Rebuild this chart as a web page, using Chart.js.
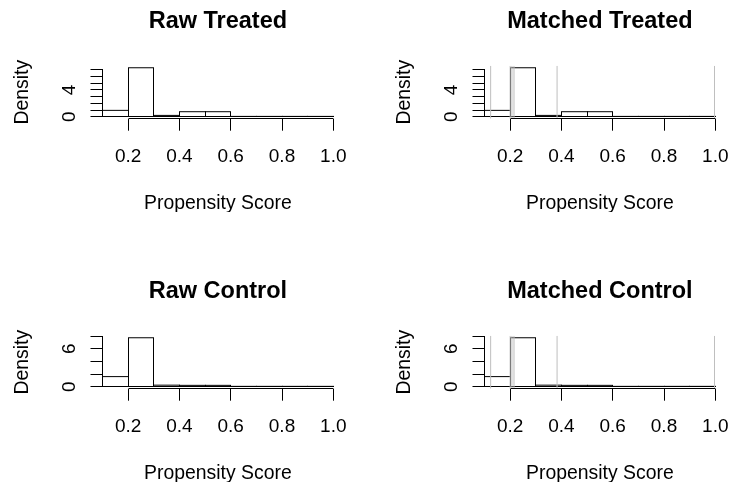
<!DOCTYPE html>
<html><head><meta charset="utf-8">
<script src="https://cdn.jsdelivr.net/npm/chart.js@4.4.1/dist/chart.umd.min.js"></script>
<style>
html,body{margin:0;padding:0;background:#fff;}
#wrap{position:relative;width:730px;height:482px;overflow:hidden;background:#fff;}
canvas{position:absolute;}
</style></head><body>
<div id="wrap">
<canvas id="c1" width="348" height="212" style="left:0px;top:0px"></canvas>
<canvas id="c2" width="348" height="212" style="left:382px;top:0px"></canvas>
<canvas id="c3" width="348" height="212" style="left:0px;top:270px"></canvas>
<canvas id="c4" width="348" height="212" style="left:382px;top:270px"></canvas>
</div>
<script>
// ---- data ----
const binLower = [0.1, 0.2, 0.3, 0.4, 0.5, 0.6, 0.7, 0.8, 0.9];
const binWidth = 0.1;
const rawTreated     = [0.95, 7.3, 0.2, 0.75, 0.75, 0.05, 0.05, 0.05, 0.05];
const matchedTreated = [0.95, 7.3, 0.2, 0.75, 0.75, 0.05, 0.05, 0.05, 0.05];
const rawControl     = [1.6, 7.73, 0.25, 0.22, 0.22, 0.06, 0.06, 0.06, 0.06];
const matchedControl = [1.6, 7.73, 0.25, 0.22, 0.22, 0.06, 0.06, 0.06, 0.06];
const xTicks = [0.2, 0.4, 0.6, 0.8, 1.0];
const treatedYTicks = [0, 1, 2, 3, 4, 5, 6, 7];
const treatedYLabels = [0, 4];
const controlYTicks = [0, 2, 4, 6, 8];
const controlYLabels = [0, 6];
const cutPoints = [0.124, 0.2, 0.207, 0.215, 0.383, 0.997];
const panelTitles = ['Raw Treated', 'Matched Treated', 'Raw Control', 'Matched Control'];
const xTitle = 'Propensity Score';
const yTitle = 'Density';

// ---- rendering ----
const FONT = '"Liberation Sans", Arial, Helvetica, sans-serif';
Chart.defaults.color = '#000';
Chart.defaults.font.family = FONT;

const alignPx = v => Math.round(v - 0.5) + 0.5;

const rAxes = {
  id: 'rAxes',
  afterDraw(chart) {
    const ctx = chart.ctx, xs = chart.scales.x, ys = chart.scales.y;
    const xt = xs.ticks, yt = ys.ticks;
    ctx.save();
    ctx.strokeStyle = '#000';
    ctx.lineWidth = 1;
    ctx.beginPath();
    const xy = alignPx(xs.top);
    ctx.moveTo(alignPx(xs.getPixelForValue(xt[0].value)), xy);
    ctx.lineTo(alignPx(xs.getPixelForValue(xt[xt.length - 1].value)), xy);
    const yx = alignPx(ys.right);
    ctx.moveTo(yx, alignPx(ys.getPixelForValue(yt[0].value)));
    ctx.lineTo(yx, alignPx(ys.getPixelForValue(yt[yt.length - 1].value)));
    ctx.stroke();
    ctx.restore();
  }
};

const rOutline = {
  id: 'rOutline',
  afterDatasetDraw(chart, args) {
    const meta = args.meta;
    if (meta.type !== 'bar') return;
    const ctx = chart.ctx, area = chart.chartArea;
    ctx.save();
    ctx.beginPath();
    ctx.rect(area.left - 1, area.top, area.right - area.left + 2, area.bottom - area.top);
    ctx.clip();
    ctx.strokeStyle = '#000';
    ctx.lineWidth = 1;
    meta.data.forEach(el => {
      const p = el.getProps(['x', 'y', 'base', 'width'], true);
      const l = alignPx(p.x - p.width / 2), r = alignPx(p.x + p.width / 2);
      const b = alignPx(p.base), t = Math.min(p.y, b);
      ctx.strokeRect(l, t, r - l, b - t);
    });
    ctx.restore();
  }
};

function makePanel(id, title, values, yTicks, yLabels, cuts) {
  const vmax = Math.max(...values);
  const ymin = -0.04 * vmax, ymax = 1.04 * vmax;
  const datasets = [{
    type: 'bar',
    data: values.map((v, i) => ({x: binLower[i] + binWidth / 2, y: v})),
    backgroundColor: 'rgba(255,255,255,0)',
    borderWidth: 0,
    barPercentage: 1,
    categoryPercentage: 1,
    grouped: false,
    order: 2
  }];
  (cuts || []).forEach(c => datasets.push({
    type: 'line',
    data: [{x: c, y: ymin}, {x: c, y: ymax}],
    borderColor: '#bebebe',
    borderWidth: 1,
    pointRadius: 0,
    order: 1
  }));
  new Chart(document.getElementById(id), {
    type: 'bar',
    data: {datasets},
    plugins: [rOutline, rAxes],
    options: {
      responsive: false,
      animation: false,
      events: [],
      layout: {padding: {left: 0, right: 14.7, top: 0, bottom: 0}},
      plugins: {
        legend: {display: false},
        tooltip: {enabled: false},
        title: {
          display: true, text: title, fullSize: false,
          font: {size: 23.5, weight: 'bold', family: FONT},
          color: '#000',
          padding: {top: 7, bottom: 30.6}
        }
      },
      scales: {
        x: {
          type: 'linear', min: 0.1, max: 1.0, offset: false,
          afterBuildTicks: s => { s.ticks = xTicks.map(v => ({value: v})); },
          afterFit: s => { s.height = 212 - 118.7; s.paddingLeft = 0; s.paddingRight = 0; },
          ticks: {autoSkip: false, maxRotation: 0, minRotation: 0, padding: 15,
                  font: {size: 19, family: FONT}, color: '#000',
                  callback: v => v.toFixed(1)},
          grid: {display: true, drawOnChartArea: false, drawTicks: true, tickLength: 12,
                 color: '#000', lineWidth: 1, offset: false},
          border: {display: false},
          title: {display: true, text: xTitle, font: {size: 19.4, family: FONT}, color: '#000',
                  padding: {top: 0, bottom: -3}}
        },
        y: {
          type: 'linear', min: ymin, max: ymax,
          afterBuildTicks: s => { s.ticks = yTicks.map(v => ({value: v})); },
          afterFit: s => { s.width = 102.5; s.paddingTop = 0; s.paddingBottom = 0; },
          ticks: {autoSkip: false, minRotation: 90, maxRotation: 90, crossAlign: 'center', padding: 15,
                  font: {size: 19, family: FONT}, color: '#000',
                  callback: v => yLabels.includes(v) ? String(v) : ''},
          grid: {display: true, drawOnChartArea: false, drawTicks: true, tickLength: 12,
                 color: '#000', lineWidth: 1},
          border: {display: false},
          title: {display: true, text: yTitle, font: {size: 19.4, family: FONT}, color: '#000',
                  padding: {top: 11, bottom: 0}}
        }
      }
    }
  });
}

makePanel('c1', panelTitles[0], rawTreated, treatedYTicks, treatedYLabels, null);
makePanel('c2', panelTitles[1], matchedTreated, treatedYTicks, treatedYLabels, cutPoints);
makePanel('c3', panelTitles[2], rawControl, controlYTicks, controlYLabels, null);
makePanel('c4', panelTitles[3], matchedControl, controlYTicks, controlYLabels, cutPoints);
</script>
</body></html>
